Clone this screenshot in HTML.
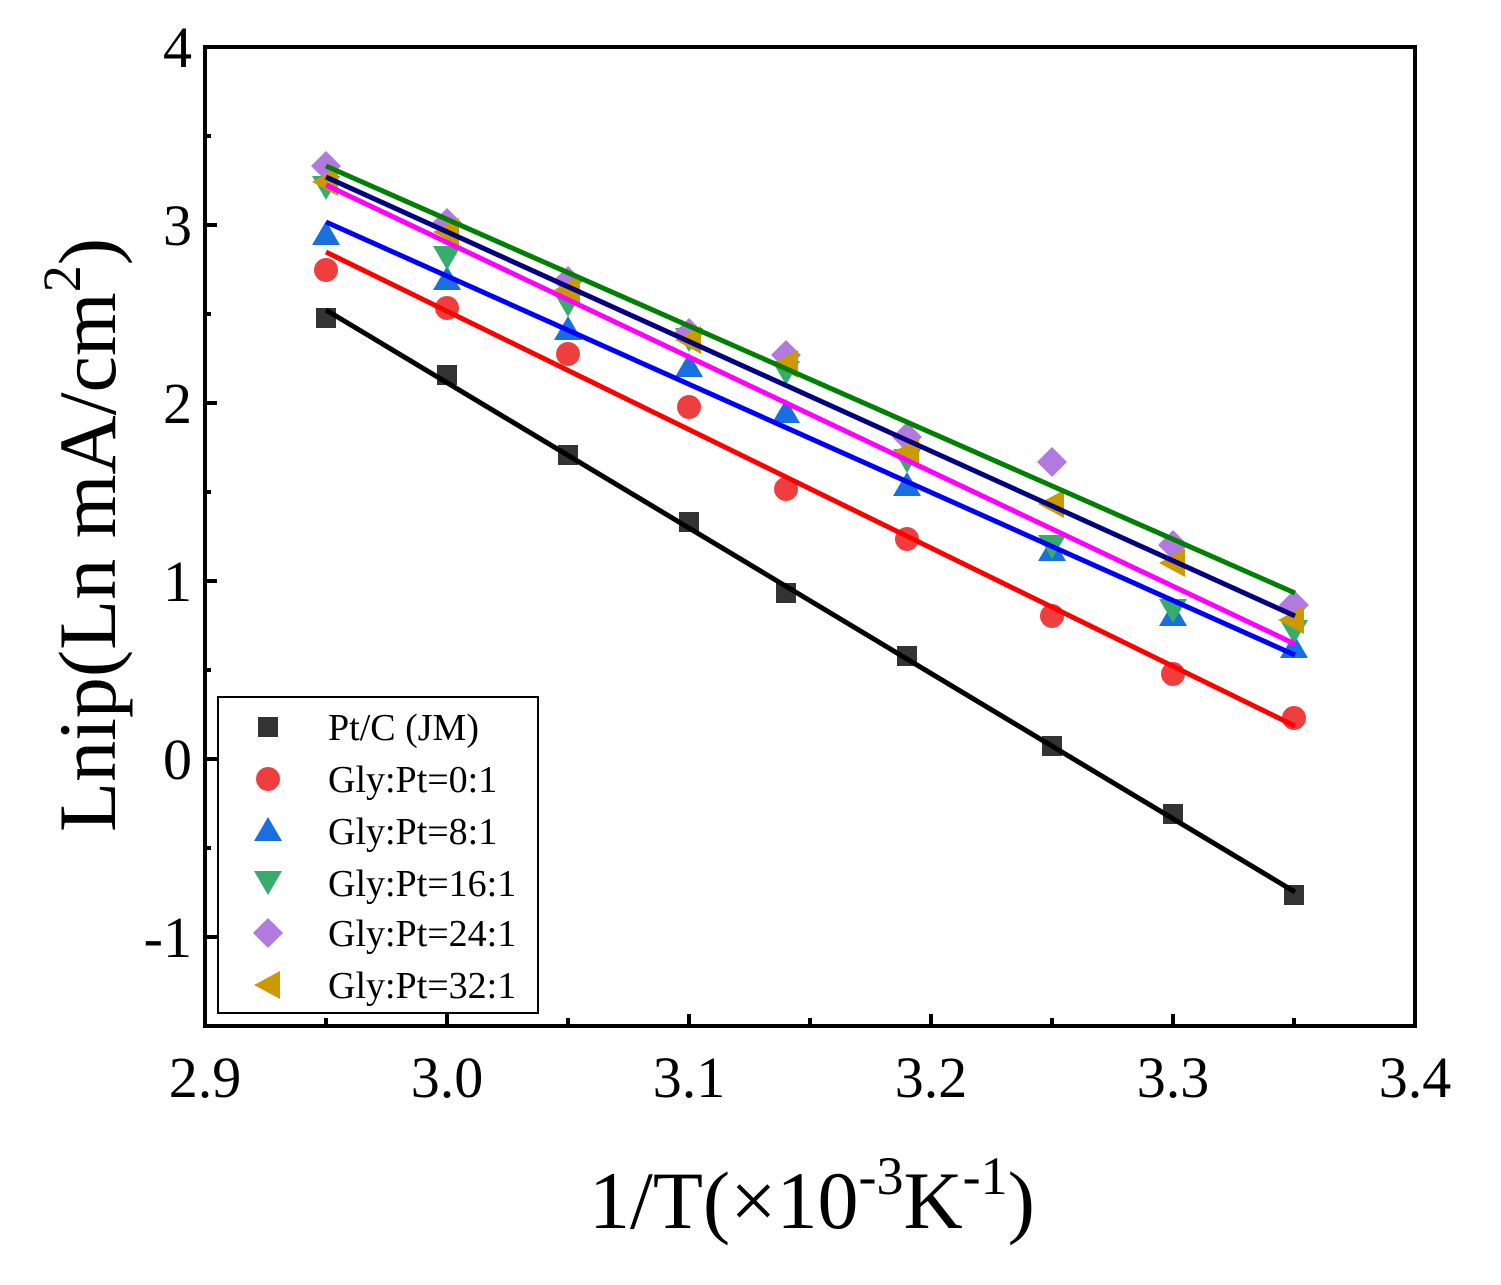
<!DOCTYPE html>
<html><head><meta charset="utf-8"><style>html,body{margin:0;padding:0;background:#fff}svg{display:block}</style></head>
<body>
<svg width="1501" height="1285" viewBox="0 0 1501 1285" xmlns="http://www.w3.org/2000/svg" font-family="Liberation Serif, serif">
<defs>
<rect id="sq" x="-10" y="-10" width="20" height="20" fill="#333"/>
<circle id="ci" r="12" fill="#ef3e3e"/>
<path id="tu" d="M0,-12 L14,12 L-14,12Z" fill="#1a6fdf"/>
<path id="td" d="M0,12 L14,-12 L-14,-12Z" fill="#37ad6b"/>
<path id="di" d="M0,-15 L15,0 L0,15 L-15,0Z" fill="#b27ade"/>
<path id="tl" d="M-14,0 L12,-14 L12,14Z" fill="#cc9a00"/>
</defs>
<g>
<use href="#sq" x="326" y="318"/><use href="#sq" x="447" y="375"/><use href="#sq" x="568" y="455"/><use href="#sq" x="689" y="522"/><use href="#sq" x="786" y="593"/><use href="#sq" x="907" y="656"/><use href="#sq" x="1052" y="746"/><use href="#sq" x="1173" y="814"/><use href="#sq" x="1294" y="895"/>
<use href="#ci" x="326" y="270"/><use href="#ci" x="447" y="308"/><use href="#ci" x="568" y="354"/><use href="#ci" x="689" y="407"/><use href="#ci" x="786" y="489"/><use href="#ci" x="907" y="539"/><use href="#ci" x="1052" y="616"/><use href="#ci" x="1173" y="674"/><use href="#ci" x="1294" y="718"/>
<use href="#tu" x="326" y="233"/><use href="#tu" x="447" y="278"/><use href="#tu" x="568" y="328"/><use href="#tu" x="689" y="365"/><use href="#tu" x="786" y="411"/><use href="#tu" x="907" y="484"/><use href="#tu" x="1052" y="549"/><use href="#tu" x="1173" y="614"/><use href="#tu" x="1294" y="646"/>
<use href="#td" x="326" y="188"/><use href="#td" x="447" y="258"/><use href="#td" x="568" y="305"/><use href="#td" x="689" y="340"/><use href="#td" x="786" y="373"/><use href="#td" x="907" y="461"/><use href="#td" x="1052" y="547"/><use href="#td" x="1173" y="611"/><use href="#td" x="1294" y="632"/>
<use href="#di" x="326" y="166"/><use href="#di" x="447" y="223"/><use href="#di" x="568" y="281"/><use href="#di" x="689" y="333"/><use href="#di" x="786" y="355"/><use href="#di" x="907" y="437"/><use href="#di" x="1052" y="462"/><use href="#di" x="1173" y="545"/><use href="#di" x="1294" y="605"/>
<use href="#tl" x="326" y="182"/><use href="#tl" x="447" y="232"/><use href="#tl" x="568" y="290"/><use href="#tl" x="689" y="340"/><use href="#tl" x="786" y="364"/><use href="#tl" x="907" y="452"/><use href="#tl" x="1052" y="504"/><use href="#tl" x="1173" y="563"/><use href="#tl" x="1292" y="620"/>
</g>
<g stroke-width="5" fill="none">
<line x1="326" y1="310" x2="1295" y2="892" stroke="#000"/>
<line x1="326" y1="252" x2="1295" y2="726" stroke="#ff0000"/>
<line x1="326" y1="222" x2="1295" y2="655" stroke="#0000ff"/>
<line x1="326" y1="185" x2="1295" y2="644" stroke="#ff00ff"/>
<line x1="326" y1="177" x2="1295" y2="616" stroke="#000080"/>
<line x1="326" y1="166" x2="1295" y2="593" stroke="#008000"/>
</g>
<rect x="205" y="47" width="1210" height="979" fill="none" stroke="#000" stroke-width="4"/>
<g stroke="#000" stroke-width="4">
<line x1="205" y1="47" x2="217" y2="47"/><line x1="205" y1="136" x2="211" y2="136"/>
<line x1="205" y1="225" x2="217" y2="225"/><line x1="205" y1="314" x2="211" y2="314"/>
<line x1="205" y1="403" x2="217" y2="403"/><line x1="205" y1="492" x2="211" y2="492"/>
<line x1="205" y1="581" x2="217" y2="581"/><line x1="205" y1="670" x2="211" y2="670"/>
<line x1="205" y1="759" x2="217" y2="759"/><line x1="205" y1="848" x2="211" y2="848"/>
<line x1="205" y1="937" x2="217" y2="937"/>
<line x1="326" y1="1026" x2="326" y2="1018"/><line x1="447" y1="1026" x2="447" y2="1014"/>
<line x1="568" y1="1026" x2="568" y2="1018"/><line x1="689" y1="1026" x2="689" y2="1014"/>
<line x1="810" y1="1026" x2="810" y2="1018"/><line x1="931" y1="1026" x2="931" y2="1014"/>
<line x1="1052" y1="1026" x2="1052" y2="1018"/><line x1="1173" y1="1026" x2="1173" y2="1014"/>
<line x1="1294" y1="1026" x2="1294" y2="1018"/>
</g>
<g font-size="58" text-anchor="end" fill="#000">
<text x="192" y="67">4</text><text x="192" y="245">3</text><text x="192" y="423">2</text><text x="192" y="601">1</text><text x="192" y="779">0</text><text x="192" y="957">-1</text>
</g>
<g font-size="58" text-anchor="middle" fill="#000">
<text x="205" y="1097">2.9</text><text x="447" y="1097">3.0</text><text x="689" y="1097">3.1</text><text x="931" y="1097">3.2</text><text x="1173" y="1097">3.3</text><text x="1415" y="1097">3.4</text>
</g>
<text x="812" y="1228" font-size="82" text-anchor="middle">1/T(×10<tspan font-size="54" dy="-34">-3</tspan><tspan dy="34">K</tspan><tspan font-size="54" dy="-34">-1</tspan><tspan dy="34">)</tspan></text>
<text transform="translate(115,535) rotate(-90)" font-size="82" text-anchor="middle">Lnip(Ln mA/cm<tspan font-size="54" dy="-35">2</tspan><tspan dy="35">)</tspan></text>
<rect x="218" y="697" width="320" height="316" fill="#fff" stroke="#000" stroke-width="2"/>
<g font-size="38" fill="#000">
<use href="#sq" x="268" y="727"/><text x="328" y="740">Pt/C (JM)</text>
<use href="#ci" x="268" y="779"/><text x="328" y="792">Gly:Pt=0:1</text>
<use href="#tu" x="268" y="829"/><text x="328" y="844">Gly:Pt=8:1</text>
<use href="#td" x="268" y="883"/><text x="328" y="896">Gly:Pt=16:1</text>
<use href="#di" x="268" y="933"/><text x="328" y="946">Gly:Pt=24:1</text>
<use href="#tl" x="268" y="985"/><text x="328" y="998">Gly:Pt=32:1</text>
</g>
</svg>
</body></html>
